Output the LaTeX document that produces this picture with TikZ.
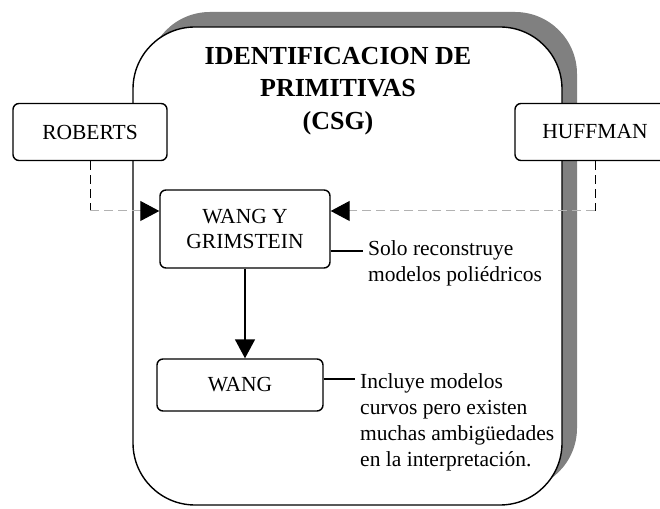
\documentclass[tikz,border=0pt]{standalone}
\usepackage{fontspec}
\setmainfont{Liberation Serif}
\usetikzlibrary{arrows.meta}
\tikzset{
    caja/.style={draw, line width=1.4pt, rounded corners=6pt, fill=white, align=center,
        inner sep=0pt, font=\fontsize{21.5}{25}\selectfont},
    nota/.style={anchor=north west, align=left, inner sep=0pt, font=\fontsize{21.5}{26}\selectfont},
    punta/.style={-{Triangle[length=19pt,width=20pt,color=black,fill=black]}},
    guion/.style={dash pattern=on 9pt off 5pt, line width=1pt}
}
\begin{document}
\begin{tikzpicture}[x=1pt,y=1pt]
        \useasboundingbox (0,0) rectangle (660,508);
        \clip (0,0) rectangle (660,508);
        % marco con sombra
        \fill[gray, rounded corners=62pt] (148,18) rectangle (577,496);
        \draw[line width=1.4pt, fill=white, rounded corners=62pt] (133,3) rectangle (562,481);
        \node[align=center, font=\bfseries\fontsize{26}{32.5}\selectfont] (titulo) at (338,417)
            {IDENTIFICACION DE\\PRIMITIVAS\\(CSG)};
        \node[caja, minimum width=154pt, minimum height=57pt] (roberts) at (90,376) {ROBERTS};
        \node[caja, minimum width=160pt, minimum height=57pt] (huffman) at (595,376) {HUFFMAN};
        \node[caja, minimum width=170pt, minimum height=78pt] (grimstein) at (245,279)
            {WANG Y\\GRIMSTEIN};
        \node[caja, minimum width=166pt, minimum height=52pt] (wang) at (240,123) {WANG};
        \coordinate (nivel) at (0,297);
        % entradas punteadas
        \draw[guion] (roberts.south) -- (roberts.south |- nivel);
        \draw[guion, gray!60, punta] (roberts.south |- nivel) -- (nivel -| grimstein.west);
        \draw[guion] (huffman.south) -- (huffman.south |- nivel);
        \draw[guion, gray!60, punta] (huffman.south |- nivel) -- (nivel -| grimstein.east);
        \draw[line width=1.6pt, punta] (grimstein.south) -- (grimstein.south |- wang.north);
        % notas
        \coordinate (fin1) at (363,257);
        \draw[line width=1.4pt] (grimstein.east |- fin1) -- (fin1);
        \node[nota] (nota1) at (368,268) {Solo reconstruye\\modelos poliédricos};
        \coordinate (fin2) at (355,129);
        \draw[line width=1.4pt] (wang.east |- fin2) -- (fin2);
        \node[nota] (nota2) at (360,135)
            {Incluye modelos\\curvos pero existen\\muchas ambigüedades\\en la interpretación.};
\end{tikzpicture}
\end{document}
